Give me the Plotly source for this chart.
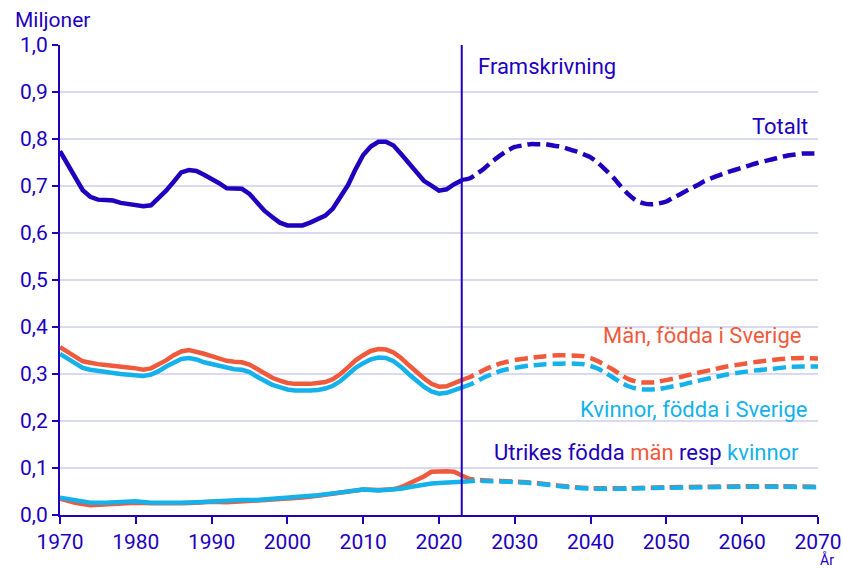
import plotly.graph_objects as go

# ---------------- data (millions) ----------------
hist_years_total = list(range(1970, 2024))
total_hist = [0.774, 0.745, 0.716, 0.691, 0.677, 0.671, 0.670, 0.669, 0.664, 0.662,
              0.661, 0.657, 0.659, 0.674, 0.690, 0.709, 0.729, 0.734, 0.732, 0.724,
              0.716, 0.706, 0.695, 0.694, 0.694, 0.683, 0.664, 0.647, 0.634, 0.622,
              0.616, 0.616, 0.616, 0.622, 0.629, 0.637, 0.652, 0.675, 0.702, 0.736,
              0.766, 0.784, 0.794, 0.794, 0.786, 0.768, 0.749, 0.727, 0.711, 0.701,
              0.690, 0.693, 0.704, 0.712]

proj_years_total = list(range(2023, 2071))
total_proj = [0.713, 0.716, 0.726, 0.738, 0.752, 0.764, 0.775, 0.783, 0.786, 0.789,
              0.789, 0.789, 0.786, 0.784, 0.779, 0.774, 0.768, 0.761, 0.749, 0.734,
              0.718, 0.699, 0.682, 0.669, 0.663, 0.661, 0.663, 0.667, 0.676, 0.684,
              0.693, 0.701, 0.710, 0.717, 0.723, 0.729, 0.734, 0.739, 0.744, 0.749,
              0.753, 0.757, 0.761, 0.765, 0.767, 0.769, 0.769, 0.769]

hist_years = list(range(1970, 2024))
men_sv_hist = [0.357, 0.348, 0.337, 0.327, 0.323, 0.321, 0.319, 0.318, 0.316, 0.314,
               0.312, 0.309, 0.312, 0.320, 0.329, 0.340, 0.348, 0.351, 0.348, 0.343,
               0.338, 0.333, 0.328, 0.326, 0.325, 0.320, 0.311, 0.300, 0.292, 0.286,
               0.281, 0.279, 0.278, 0.279, 0.281, 0.283, 0.289, 0.300, 0.314, 0.329,
               0.340, 0.349, 0.353, 0.352, 0.346, 0.334, 0.319, 0.304, 0.291, 0.279,
               0.273, 0.274, 0.280, 0.287]
women_sv_hist = [0.343, 0.333, 0.322, 0.313, 0.309, 0.306, 0.304, 0.302, 0.300, 0.299,
                 0.298, 0.296, 0.299, 0.306, 0.316, 0.325, 0.332, 0.334, 0.331, 0.325,
                 0.321, 0.316, 0.312, 0.310, 0.309, 0.304, 0.294, 0.285, 0.277, 0.272,
                 0.267, 0.265, 0.264, 0.265, 0.266, 0.269, 0.275, 0.285, 0.299, 0.313,
                 0.323, 0.331, 0.335, 0.334, 0.327, 0.315, 0.300, 0.286, 0.273, 0.263,
                 0.258, 0.260, 0.265, 0.271]

proj_years_sv = [2023, 2024, 2025, 2026, 2027, 2028, 2029, 2030, 2032, 2034, 2036, 2038,
                 2039, 2040, 2041, 2042, 2043, 2044, 2045, 2046, 2047, 2048, 2049, 2050,
                 2052, 2054, 2056, 2058, 2060, 2062, 2064, 2066, 2068, 2070]
men_sv_proj = [0.287, 0.293, 0.301, 0.309, 0.316, 0.322, 0.326, 0.330, 0.334, 0.338, 0.340, 0.339,
               0.338, 0.334, 0.327, 0.318, 0.309, 0.298, 0.289, 0.284, 0.282, 0.282, 0.284, 0.287,
               0.294, 0.302, 0.309, 0.316, 0.321, 0.326, 0.330, 0.333, 0.334, 0.333]
women_sv_proj = [0.271, 0.277, 0.285, 0.293, 0.300, 0.306, 0.310, 0.313, 0.318, 0.321, 0.322, 0.322,
                 0.321, 0.317, 0.311, 0.302, 0.292, 0.282, 0.274, 0.269, 0.267, 0.267, 0.268, 0.271,
                 0.277, 0.285, 0.292, 0.299, 0.304, 0.308, 0.311, 0.315, 0.316, 0.316]

hist_years_fb = [1970, 1972, 1974, 1976, 1978, 1980, 1982, 1984, 1986, 1988, 1990, 1992,
                 1994, 1996, 1998, 2000, 2002, 2004, 2006, 2008, 2010, 2012, 2014, 2015,
                 2016, 2017, 2018, 2019, 2020, 2021, 2022, 2023]
men_fb_hist = [0.035, 0.026, 0.021, 0.023, 0.025, 0.026, 0.025, 0.024, 0.025, 0.026, 0.028, 0.027,
               0.029, 0.030, 0.031, 0.034, 0.037, 0.041, 0.046, 0.051, 0.054, 0.053, 0.055, 0.059,
               0.066, 0.074, 0.082, 0.092, 0.093, 0.093, 0.092, 0.084]
women_fb_hist = [0.037, 0.031, 0.026, 0.026, 0.028, 0.029, 0.026, 0.025, 0.026, 0.027, 0.029, 0.030,
                 0.032, 0.032, 0.034, 0.036, 0.039, 0.042, 0.046, 0.050, 0.054, 0.052, 0.054, 0.056,
                 0.059, 0.062, 0.065, 0.067, 0.068, 0.069, 0.070, 0.071]

proj_years_fb = [2023, 2024, 2025, 2027, 2029, 2030, 2032, 2034, 2036, 2038, 2040, 2042,
                 2045, 2050, 2055, 2060, 2065, 2070]
men_fb_proj = [0.084, 0.077, 0.075, 0.073, 0.072, 0.071, 0.069, 0.066, 0.062, 0.059, 0.057, 0.057,
               0.057, 0.059, 0.060, 0.061, 0.061, 0.060]
women_fb_proj = [0.071, 0.072, 0.073, 0.072, 0.071, 0.070, 0.068, 0.065, 0.061, 0.058, 0.056, 0.056,
                 0.056, 0.058, 0.059, 0.060, 0.060, 0.059]

x_ticks = [1970, 1980, 1990, 2000, 2010, 2020, 2030, 2040, 2050, 2060, 2070]
y_ticks = [0.0, 0.1, 0.2, 0.3, 0.4, 0.5, 0.6, 0.7, 0.8, 0.9, 1.0]
projection_start = 2023

# ---------------- style ----------------
DARK = "#1E00BE"
ORANGE = "#F05A3C"
LIGHT = "#14B1EA"
GRID = "#D9D9F2"
FONT = "Roboto"
LW = 4.5
DASH = "13px,6px"

fig = go.Figure()

def add(x, y, color, dashed=False):
    fig.add_trace(go.Scatter(
        x=x, y=y, mode="lines",
        line=dict(color=color, width=LW, dash=DASH if dashed else "solid",
                  shape="spline" if dashed else "linear", smoothing=0.6),
        hoverinfo="skip", showlegend=False))

add(hist_years_fb, men_fb_hist, ORANGE)
add(proj_years_fb, men_fb_proj, ORANGE, True)
add(hist_years_fb, women_fb_hist, LIGHT)
add(proj_years_fb, women_fb_proj, LIGHT, True)
add(hist_years, women_sv_hist, LIGHT)
add(proj_years_sv, women_sv_proj, LIGHT, True)
add(hist_years, men_sv_hist, ORANGE)
add(proj_years_sv, men_sv_proj, ORANGE, True)
add(hist_years_total, total_hist, DARK)
add(proj_years_total, total_proj, DARK, True)

fig.add_shape(type="line", xref="x", yref="y", x0=projection_start, x1=projection_start,
              y0=0, y1=1.0, line=dict(color=DARK, width=2), layer="above")

ann_font = dict(family=FONT, size=22)
fig.add_annotation(x=2024.9, y=0.955, xref="x", yref="y", text="Framskrivning",
                   showarrow=False, xanchor="left", yanchor="middle",
                   font=dict(ann_font, color=DARK))
fig.add_annotation(x=2069.0, y=0.826, xref="x", yref="y", text="Totalt",
                   showarrow=False, xanchor="right", yanchor="middle",
                   font=dict(ann_font, color=DARK))
fig.add_annotation(x=2068.0, y=0.382, xref="x", yref="y", text="Män, födda i Sverige",
                   showarrow=False, xanchor="right", yanchor="middle",
                   font=dict(ann_font, color=ORANGE))
fig.add_annotation(x=2068.8, y=0.224, xref="x", yref="y", text="Kvinnor, födda i Sverige",
                   showarrow=False, xanchor="right", yanchor="middle",
                   font=dict(ann_font, color=LIGHT))
fig.add_annotation(x=2027.0, y=0.132, xref="x", yref="y",
                   text=("Utrikes födda <span style='color:%s'>män</span> resp "
                         "<span style='color:%s'>kvinnor</span>" % (ORANGE, LIGHT)),
                   showarrow=False, xanchor="left", yanchor="middle",
                   font=dict(ann_font, color=DARK))
fig.add_annotation(x=0, y=1.0, xref="paper", yref="paper", text="Miljoner",
                   showarrow=False, xanchor="left", yanchor="bottom", xshift=-47, yshift=11,
                   font=dict(family=FONT, size=21, color=DARK))
fig.add_annotation(x=2070, y=0, xref="x", yref="paper", text="År",
                   showarrow=False, xanchor="left", yanchor="bottom", xshift=1, yshift=-54,
                   borderpad=0, font=dict(family=FONT, size=14, color=DARK))

fig.update_layout(
    width=843, height=568,
    margin=dict(l=60, r=25, t=45, b=53, autoexpand=False),
    paper_bgcolor="white", plot_bgcolor="white",
    separators=", ",
    font=dict(family=FONT, size=20, color=DARK),
    showlegend=False,
)
fig.update_xaxes(range=[1970, 2070], tickvals=x_ticks, ticktext=[str(v) for v in x_ticks],
                 showgrid=False, zeroline=False, showline=True, linecolor=DARK, linewidth=2,
                 ticks="outside", ticklen=7, tickwidth=2, tickcolor=DARK, automargin=False,
                 tickfont=dict(family=FONT, size=21, color=DARK))
fig.update_yaxes(range=[0, 1.0], tickvals=y_ticks, tickformat=".1f",
                 showgrid=True, gridcolor=GRID, gridwidth=2, zeroline=False,
                 showline=True, linecolor=DARK, linewidth=2, automargin=False,
                 ticks="outside", ticklen=6, tickwidth=2, tickcolor=DARK,
                 tickfont=dict(family=FONT, size=21, color=DARK))

fig.write_html("out.html", config={"displayModeBar": False},
               post_script="document.body.style.margin='0';document.body.style.overflow='hidden';")
